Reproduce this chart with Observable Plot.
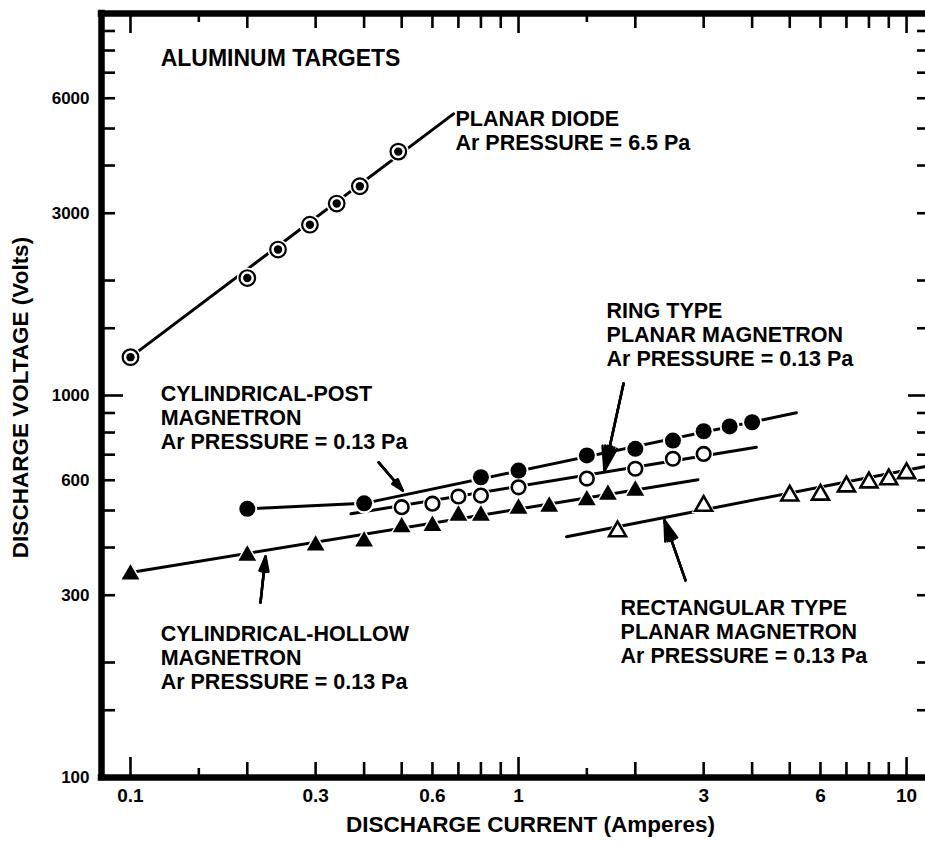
<!DOCTYPE html>
<html>
<head>
<meta charset="utf-8">
<script src="https://cdn.jsdelivr.net/npm/d3@7"></script>
<script src="https://cdn.jsdelivr.net/npm/@observablehq/plot@0.6"></script>
<style>
  html, body { margin: 0; padding: 0; background: #fff; }
  #chart svg { display: block; }
</style>
</head>
<body>
<div id="chart"></div>
<script>
// ---------- scales ----------
const xDomain = [0.0842, 11.19];   // discharge current (A), log
const yDomain = [100, 10000];      // discharge voltage (V), log

// ---------- tick values & labels ----------
const xTicksMajor = [0.1, 1, 10];
const xTicksMinor = [0.2, 0.3, 0.4, 0.5, 0.6, 0.7, 0.8, 0.9, 2, 3, 4, 5, 6, 7, 8, 9];
const xTicksShort = [0.15, 1.5];
const xTickLabels = [0.1, 0.3, 0.6, 1, 3, 6, 10];
const yTicksMajor = [1000];
const yTicksMinor = [150, 200, 300, 400, 500, 600, 700, 800, 900,
                     1500, 2000, 3000, 4000, 5000, 6000, 7000, 8000, 9000];
const yTickLabels = [100, 300, 600, 1000, 3000, 6000];

// ---------- series ----------
// Planar diode, Ar 6.5 Pa (circle with centre dot)
const diodeX = [0.1, 0.2, 0.24, 0.29, 0.34, 0.39, 0.49];
const diodeV = [1260, 2030, 2410, 2800, 3180, 3530, 4350];
const diodeLineX = [0.1, 0.68];
const diodeLineV = [1260, 5460];

// Cylindrical-post magnetron (filled circles)
const postX = [0.2, 0.4, 0.8, 1.0, 1.5, 2.0, 2.5, 3.0, 3.5, 4.0];
const postV = [505, 522, 611, 636, 697, 725, 762, 806, 830, 851];
const postLineX = [0.2, 0.4, 5.2];
const postLineV = [505, 522, 901];

// Ring type planar magnetron (open circles)
const ringX = [0.5, 0.6, 0.7, 0.8, 1.0, 1.5, 2.0, 2.5, 3.0];
const ringV = [510, 521, 544, 547, 575, 606, 643, 683, 703];
const ringLineX = [0.37, 4.1];
const ringLineV = [490, 732];

// Cylindrical-hollow magnetron (filled triangles)
const hollowX = [0.1, 0.2, 0.3, 0.4, 0.5, 0.6, 0.7, 0.8, 1.0, 1.2, 1.5, 1.7, 2.0];
const hollowV = [340, 381, 405, 415, 452, 456, 485, 485, 506, 512, 532, 550, 564];
const hollowLineX = [0.1, 2.9];
const hollowLineV = [344, 602];

// Rectangular type planar magnetron (open triangles)
const rectX = [1.8, 3, 5, 6, 7, 8, 9, 10];
const rectV = [441, 514, 547, 550, 578, 592, 603, 626];
const rectLineX = [1.33, 11.1];
const rectLineV = [427, 651];

// ---------- annotations ----------
const labelText = [
  "PLANAR DIODE\nAr PRESSURE = 6.5 Pa",
  "RING TYPE\nPLANAR MAGNETRON\nAr PRESSURE = 0.13 Pa",
  "CYLINDRICAL-POST\nMAGNETRON\nAr PRESSURE = 0.13 Pa",
  "CYLINDRICAL-HOLLOW\nMAGNETRON\nAr PRESSURE = 0.13 Pa",
  "RECTANGULAR TYPE\nPLANAR MAGNETRON\nAr PRESSURE = 0.13 Pa"
];
const labelX = [0.688, 1.686, 0.1196, 0.1196, 1.832];
const labelV = [5607, 1762, 1069, 251.5, 294.2];

const titleText = ["ALUMINUM TARGETS"];
const titleX = [0.1196];
const titleV = [7625];

// arrows: tail -> head
const arrowX1 = [0.436, 1.865, 0.2163, 2.694];
const arrowV1 = [668, 1075, 287, 328];
const arrowX2 = [0.503, 1.666, 0.2229, 2.378];
const arrowV2 = [564, 636, 379, 471];

const xLabel = "DISCHARGE CURRENT (Amperes)";
const yLabel = "DISCHARGE VOLTAGE (Volts)";

// ---------- build tables ----------
const pts = (xs, vs) => xs.map((x, i) => ({x, v: vs[i]}));
const diode = pts(diodeX, diodeV), post = pts(postX, postV), ring = pts(ringX, ringV),
      hollow = pts(hollowX, hollowV), rect = pts(rectX, rectV);
const labels = labelText.map((t, i) => ({text: t, x: labelX[i], v: labelV[i]}));
const titles = titleText.map((t, i) => ({text: t, x: titleX[i], v: titleV[i]}));
const arrows = arrowX1.map((x1, i) => ({x1, v1: arrowV1[i], x2: arrowX2[i], v2: arrowV2[i]}));

const W = 925, H = 848, mL = 101, mR = 0, mT = 13, mB = 71;
const plotW = W - mL - mR, plotH = H - mT - mB;
const sans = "'Liberation Sans', Arial, Helvetica, sans-serif";
const tw = 2.6;
const line = (xs, vs) => Plot.line(pts(xs, vs), {x: "x", y: "v", stroke: "black", strokeWidth: 3});
const arrowMark = (angle) => Plot.arrow(arrows, {x1: "x1", y1: "v1", x2: "x2", y2: "v2", stroke: "black",
      strokeWidth: 2.5, headLength: 15, headAngle: angle});

const chart = Plot.plot({
  width: W, height: H,
  marginLeft: mL, marginRight: mR, marginTop: mT, marginBottom: mB,
  style: {background: "white", overflow: "visible", color: "black"},
  x: {type: "log", domain: xDomain, axis: null},
  y: {type: "log", domain: yDomain, axis: null},
  marks: [
    // frame (left, top, bottom)
    Plot.ruleX([xDomain[0]], {strokeWidth: 6.5, strokeLinecap: "square"}),
    Plot.ruleY(yDomain, {strokeWidth: 6.5, strokeLinecap: "square"}),
    // bottom ticks
    Plot.tickX(xTicksMajor, {x: d => d, insetTop: plotH - 20, strokeWidth: tw}),
    Plot.tickX(xTicksMinor, {x: d => d, insetTop: plotH - 15, strokeWidth: tw}),
    Plot.tickX(xTicksShort, {x: d => d, insetTop: plotH - 9, strokeWidth: tw}),
    // top ticks
    Plot.tickX(xTicksMajor, {x: d => d, insetBottom: plotH - 20, strokeWidth: tw}),
    Plot.tickX(xTicksMinor, {x: d => d, insetBottom: plotH - 15, strokeWidth: tw}),
    Plot.tickX(xTicksShort, {x: d => d, insetBottom: plotH - 9, strokeWidth: tw}),
    // left ticks
    Plot.tickY(yTicksMajor, {y: d => d, insetRight: plotW - 22, strokeWidth: tw}),
    Plot.tickY(yTicksMinor, {y: d => d, insetRight: plotW - 14, strokeWidth: tw}),
    // right ticks
    Plot.tickY(yTicksMajor, {y: d => d, insetLeft: plotW - 17, strokeWidth: tw}),
    Plot.tickY(yTicksMinor, {y: d => d, insetLeft: plotW - 8, strokeWidth: tw}),
    // tick labels
    Plot.text(xTickLabels, {x: d => d, frameAnchor: "bottom", dy: 24, text: d => String(d),
      fontSize: 19, fontWeight: "bold", fontFamily: sans}),
    Plot.text(yTickLabels, {y: d => d, frameAnchor: "left", dx: -12, textAnchor: "end", text: d => String(d),
      fontSize: 17, fontWeight: "bold", fontFamily: sans}),
    // axis titles
    Plot.text([xLabel], {frameAnchor: "bottom", textAnchor: "middle", dx: 17, dy: 54, text: d => d,
      fontSize: 22.5, fontWeight: "bold", fontFamily: sans}),
    Plot.text([yLabel], {frameAnchor: "left", textAnchor: "middle", dx: -81, dy: 2, rotate: -90, text: d => d,
      fontSize: 22.5, fontWeight: "bold", fontFamily: sans}),
    // fitted lines
    line(diodeLineX, diodeLineV),
    line(postLineX, postLineV),
    line(ringLineX, ringLineV),
    line(hollowLineX, hollowLineV),
    line(rectLineX, rectLineV),
    // white halos so the lines break around markers
    Plot.dot(diode, {x: "x", y: "v", r: 10.5, fill: "white"}),
    Plot.dot(post, {x: "x", y: "v", r: 10, fill: "white"}),
    Plot.dot(ring, {x: "x", y: "v", r: 9.5, fill: "white"}),
    Plot.dot(hollow, {x: "x", y: "v", r: 8.5, symbol: "triangle", fill: "white"}),
    Plot.dot(rect, {x: "x", y: "v", r: 9, symbol: "triangle", fill: "white"}),
    // markers
    Plot.dot(diode, {x: "x", y: "v", r: 7.8, fill: "white", stroke: "black", strokeWidth: 2.2}),
    Plot.dot(diode, {x: "x", y: "v", r: 4.2, fill: "black"}),
    Plot.dot(post, {x: "x", y: "v", r: 8, fill: "black"}),
    Plot.dot(ring, {x: "x", y: "v", r: 6.8, fill: "white", stroke: "black", strokeWidth: 2.6}),
    Plot.dot(hollow, {x: "x", y: "v", r: 6.6, symbol: "triangle", fill: "black"}),
    Plot.dot(rect, {x: "x", y: "v", r: 6.3, symbol: "triangle", fill: "white", stroke: "black", strokeWidth: 2.6}),
    // arrows (stacked heads give a filled, narrow arrowhead)
    arrowMark(34), arrowMark(22), arrowMark(11),
    // annotations
    Plot.text(labels, {x: "x", y: "v", text: "text", textAnchor: "start", lineAnchor: "top",
      lineHeight: 1.1, fontSize: 21.5, fontWeight: "bold", fontFamily: sans}),
    Plot.text(titles, {x: "x", y: "v", text: "text", textAnchor: "start",
      fontSize: 23, fontWeight: "bold", fontFamily: sans})
  ]
});
document.getElementById("chart").appendChild(chart);
</script>
</body>
</html>
